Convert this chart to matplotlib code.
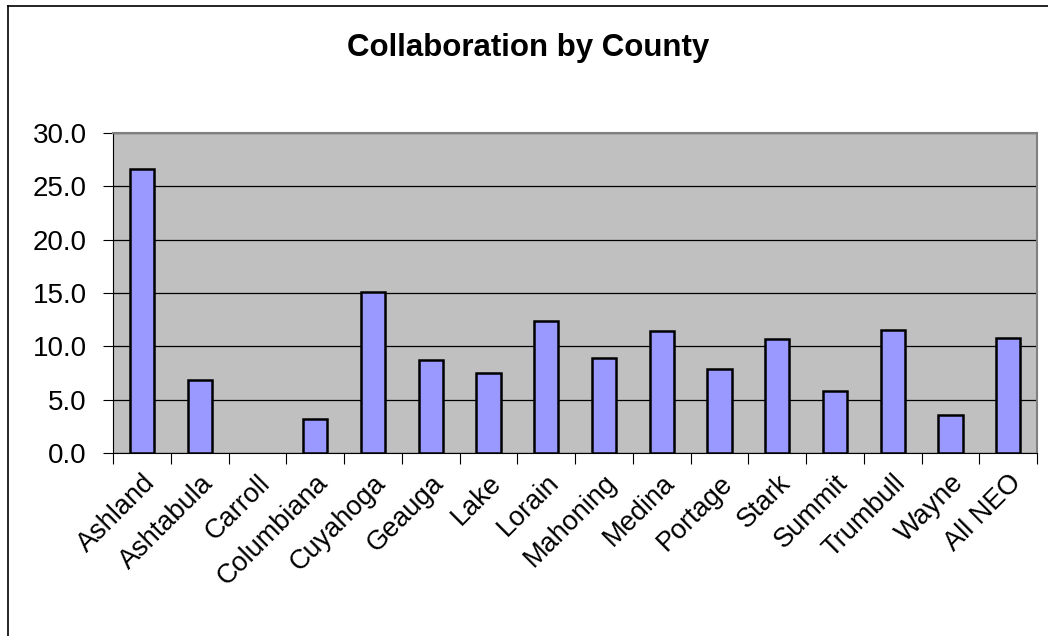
import matplotlib.pyplot as plt
import numpy as np

plt.rcParams['font.family'] = ['Liberation Sans', 'DejaVu Sans']

counties = ['Ashland', 'Ashtabula', 'Carroll', 'Columbiana', 'Cuyahoga', 'Geauga',
            'Lake', 'Lorain', 'Mahoning', 'Medina', 'Portage', 'Stark', 'Summit',
            'Trumbull', 'Wayne', 'All NEO']
values = [26.6, 6.9, 0.0, 3.2, 15.05, 8.7, 7.5, 12.35, 8.95, 11.45, 7.9, 10.7,
          5.85, 11.5, 3.55, 10.8]

fig = plt.figure(figsize=(10.48, 6.36), dpi=100)
ax = fig.add_axes([0.108, 0.2873, 0.8815, 0.5041])

x = np.arange(len(counties))
ax.set_facecolor('#c0c0c0')
# a zero-height bar shows no outline in the original
edge_w = [1.8 if v > 0 else 0 for v in values]
ax.bar(x, values, width=0.42, color='#9999ff', edgecolor='black', linewidth=edge_w, zorder=3)

ax.set_xlim(-0.5, len(counties) - 0.5)
ax.set_ylim(0, 30)
ax.set_yticks(np.arange(0, 31, 5))
ax.set_yticklabels([f'{v:.1f}' for v in np.arange(0, 31, 5)], fontsize=20)
ax.yaxis.grid(True, color='black', linewidth=0.9, zorder=1)

# ticks between categories, labels centered under bars
ax.set_xticks(np.arange(-0.5, len(counties)), minor=False)
ax.set_xticklabels([])
ax.set_xticks(x, minor=True)
ax.set_xticklabels(counties, minor=True, rotation=45, ha='right',
                   rotation_mode='anchor', fontsize=19.5)
ax.tick_params(axis='x', which='minor', length=0, pad=12)
ax.tick_params(axis='x', which='major', length=8, color='black', width=0.8)
ax.tick_params(axis='y', length=7, width=0.8, pad=12)

for side in ['top', 'right']:
    ax.spines[side].set_color('#808080')
    ax.spines[side].set_linewidth(1.5)
ax.spines['left'].set_color('black')
ax.spines['bottom'].set_color('black')

fig.text(0.504, 0.925, 'Collaboration by County', ha='center', va='center',
         fontsize=22.5, fontweight='bold')

# outer chart frame (left and top edges visible)
fig.add_artist(plt.Line2D([0.0077, 0.0077], [0, 0.99], color='black', linewidth=1.2,
                          transform=fig.transFigure))
fig.add_artist(plt.Line2D([0.0077, 1.0], [0.99, 0.99], color='black', linewidth=1.2,
                          transform=fig.transFigure))

fig.savefig('out.png', dpi=100)
